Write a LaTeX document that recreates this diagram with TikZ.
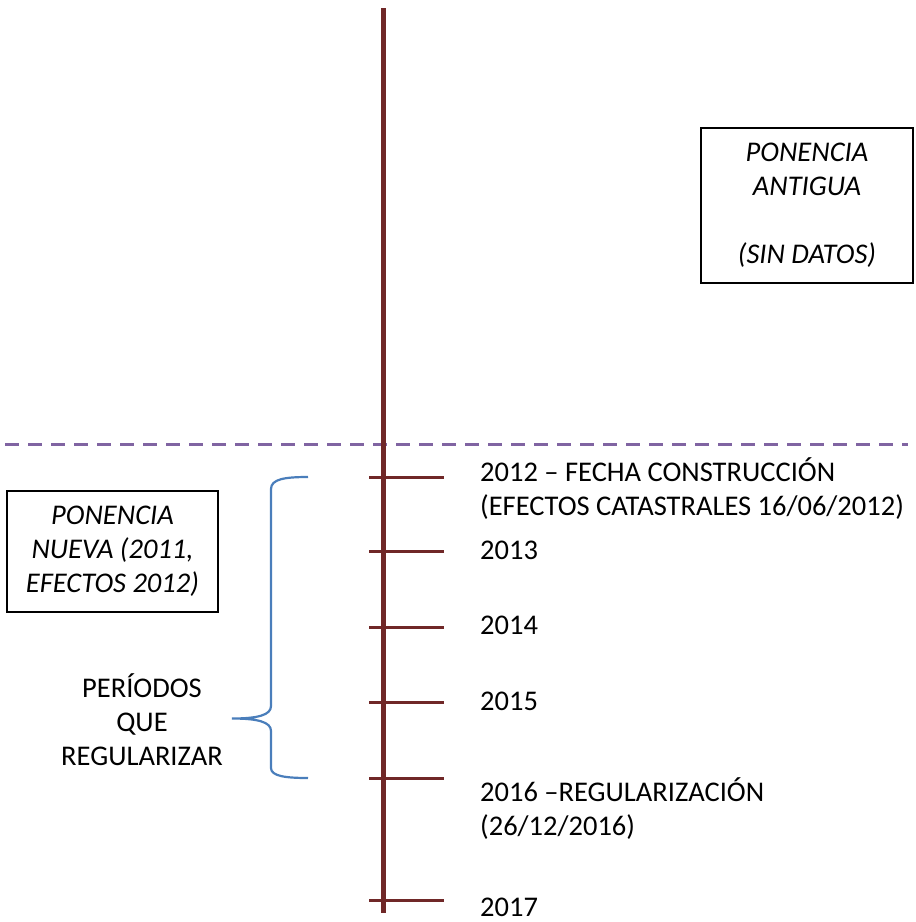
\documentclass[tikz,border=0pt]{standalone}
\usepackage{fontspec}
\setmainfont{Carlito}
\usetikzlibrary{positioning}
\definecolor{axisred}{RGB}{112,40,40}
\definecolor{splitpurple}{RGB}{128,100,162}
\definecolor{braceblue}{RGB}{74,126,187}
\begin{document}
\begin{tikzpicture}[x=1pt,y=-1pt,font=\fontsize{28.5}{34}\selectfont,
  yearlab/.style={anchor=west,align=left,inner sep=0pt},
  ponbox/.style={draw,line width=1.8pt,align=center,inner sep=0pt,font=\fontsize{28.5}{34}\selectfont\itshape}]
\useasboundingbox (0,0) rectangle (916,922);
\coordinate (dl) at (5,444);
\coordinate (dr) at (908,444);
\draw[splitpurple,line width=3pt,dash pattern=on 14pt off 9pt] (dl) -- (dr);
\coordinate (top) at (383,8);
\coordinate (bot) at (383,913);
\draw[axisred,line width=5pt] (top) -- (bot);
\foreach \y/\n in {477/a,551/b,627/c,702/d,778/e,900/f}{
  \coordinate (t\n) at (383,\y);
  \draw[axisred,line width=3pt] ([xshift=-14pt]t\n) -- ([xshift=61pt]t\n);}
\node[yearlab] (ya) at (480,489) {2012 -- FECHA CONSTRUCCIÓN\\(EFECTOS CATASTRALES 16/06/2012)};
\node[yearlab] (yb) at (480,550) {2013};
\node[yearlab] (yc) at (480,625) {2014};
\node[yearlab] (yd) at (480,701) {2015};
\node[yearlab] (ye) at (480,808.5) {2016 --REGULARIZACIÓN\\(26/12/2016)};
\node[yearlab] (yf) at (480,907) {2017};
\node[ponbox,minimum width=212pt,minimum height=155pt] (old) at (807,205.5) {PONENCIA\\ANTIGUA\\[34pt](SIN DATOS)};
\node[ponbox,minimum width=211pt,minimum height=121pt] (new) at (112.5,551.5) {PONENCIA\\NUEVA (2011,\\EFECTOS 2012)};
\coordinate (bra) at (308,477);
\coordinate (tip) at (232,718.5);
\coordinate (brb) at (308,778);
\draw[braceblue,line width=2.2pt] (bra) .. controls (285,477) and (271,479) .. (271,489) -- (271,706)
  .. controls (271,715) and (258,718.5) .. (tip) .. controls (258,718.5) and (271,722) .. (271,731)
  -- (271,768) .. controls (271,776) and (285,778) .. (brb);
\node[align=center,inner sep=0pt] (per) at (142,720) {PERÍODOS\\QUE\\REGULARIZAR};
\end{tikzpicture}
\end{document}
